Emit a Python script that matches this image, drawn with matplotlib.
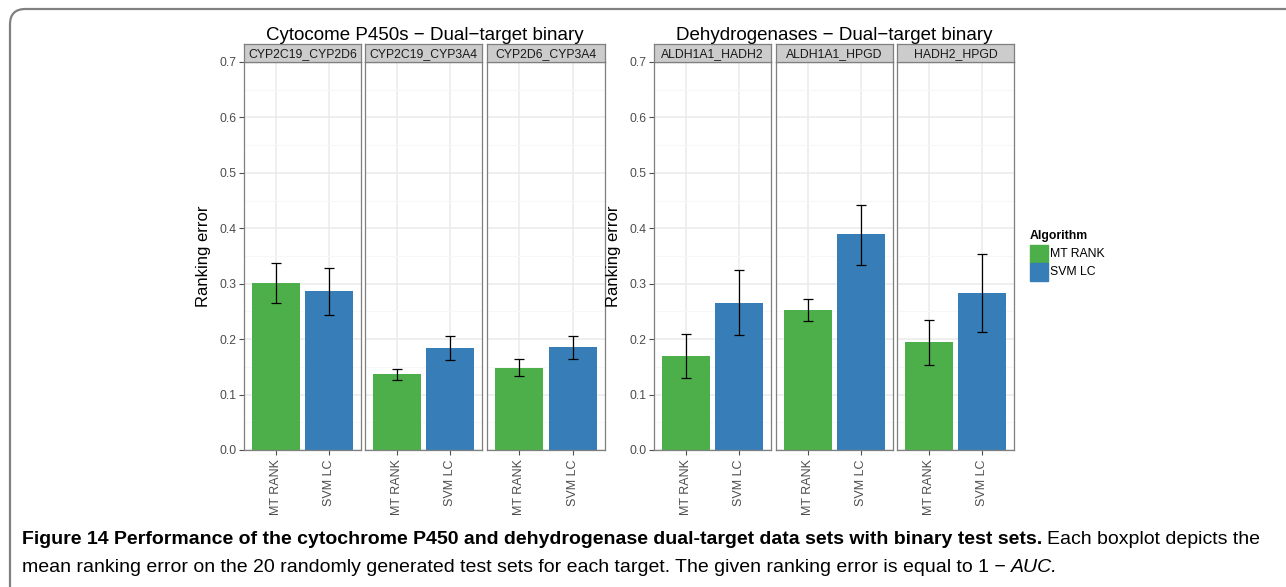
#!/usr/bin/env python3
# -*- coding: UTF-8 -*-

"""
    ranking error of MT RANK and SVM LC on dual-target binary test sets
"""

import matplotlib
matplotlib.use("Agg")
import matplotlib.pyplot as plt
from matplotlib.patches import FancyBboxPatch, Rectangle

# algorithms, one bar per algorithm in every facet
algorithms = ["MT RANK", "SVM LC"]
colors = ["#4DAF4A", "#377EB8"]

# cytochrome P450 facets
cyp_targets = ["CYP2C19_CYP2D6", "CYP2C19_CYP3A4", "CYP2D6_CYP3A4"]
cyp_mean = [[0.302, 0.286], [0.137, 0.184], [0.148, 0.185]]
cyp_low = [[0.266, 0.244], [0.126, 0.163], [0.133, 0.165]]
cyp_high = [[0.338, 0.329], [0.146, 0.206], [0.164, 0.205]]

# dehydrogenase facets
dh_targets = ["ALDH1A1_HADH2", "ALDH1A1_HPGD", "HADH2_HPGD"]
dh_mean = [[0.170, 0.266], [0.253, 0.389], [0.194, 0.284]]
dh_low = [[0.130, 0.208], [0.233, 0.334], [0.153, 0.212]]
dh_high = [[0.210, 0.324], [0.273, 0.442], [0.235, 0.353]]

y_ticks = [0.0, 0.1, 0.2, 0.3, 0.4, 0.5, 0.6, 0.7]

W, H = 1286, 587
GRID = "#EBEBEB"
MINOR = "#F7F7F7"
BORDER = "#7F7F7F"
TICKCOL = "#4D4D4D"
FONT = "Liberation Sans"


def px_axes(fig, x0, x1, ytop, ybot):
    """ axes from pixel coordinates (origin top left) """
    return fig.add_axes([x0 / W, 1 - ybot / H, (x1 - x0) / W, (ybot - ytop) / H])


def draw_facet(fig, x0, x1, name, mean, low, high, first):
    """ draw one facet with its strip """
    ax = px_axes(fig, x0, x1, 62, 450)
    xs = list(range(len(algorithms)))
    ax.set_xlim(-0.6, len(algorithms) - 0.4)
    ax.set_ylim(0, 0.7)
    ax.set_yticks(y_ticks)
    ax.set_yticks([v + 0.05 for v in y_ticks[:-1]], minor=True)
    ax.grid(True, which="major", color=GRID, lw=1.1, zorder=0)
    ax.grid(True, which="minor", axis="y", color=MINOR, lw=0.8, zorder=0)
    ax.set_axisbelow(True)
    ax.bar(xs, mean, width=0.9, color=colors, zorder=2)
    err = [[m - l for m, l in zip(mean, low)], [h - m for m, h in zip(mean, high)]]
    ax.errorbar(xs, mean, yerr=err, fmt="none", ecolor="black", elinewidth=0.9,
                capsize=3.4, capthick=0.9, zorder=3)
    ax.set_xticks(xs)
    ax.set_xticklabels(algorithms, rotation=90, fontsize=9, color=TICKCOL,
                       family=FONT)
    ax.tick_params(axis="x", length=3.5, color=TICKCOL, width=0.8, pad=3)
    ax.tick_params(which="minor", length=0)
    if first:
        ax.set_yticklabels(["%.1f" % v for v in y_ticks], fontsize=8.8,
                           color=TICKCOL, family=FONT)
        ax.tick_params(axis="y", length=3.5, color=TICKCOL, width=0.8, pad=2)
        ax.set_ylabel("Ranking error", fontsize=12, family=FONT, labelpad=6)
    else:
        ax.tick_params(axis="y", length=0, labelleft=False)
    for sp in ax.spines.values():
        sp.set_color(BORDER)
        sp.set_linewidth(0.9)

    strip = px_axes(fig, x0, x1, 44, 62)
    strip.set_xticks([])
    strip.set_yticks([])
    strip.set_facecolor("#CCCCCC")
    for sp in strip.spines.values():
        sp.set_color(BORDER)
        sp.set_linewidth(0.9)
    strip.text(0.5, 0.45, name, ha="center", va="center", fontsize=8.8,
               color="#1A1A1A", family=FONT)
    return ax


def draw_group(fig, lefts, targets, mean, low, high, title):
    """ draw a group of three facets with a common title """
    for i, (x0, x1) in enumerate(lefts):
        draw_facet(fig, x0, x1, targets[i], mean[i], low[i], high[i], i == 0)
    xc = (lefts[0][0] + lefts[-1][1]) / 2
    fig.text(xc / W, 1 - 35 / H, title, ha="center", va="center",
             fontsize=13.5, family=FONT)


fig = plt.figure(figsize=(W / 100, H / 100), dpi=100)

# outer frame of the figure box
frame = FancyBboxPatch((10 / W, -0.2), 1.2, 1.2 - 9 / H,
                       boxstyle="round,pad=0,rounding_size=0.012",
                       transform=fig.transFigure, fill=False,
                       ec="#808080", lw=1.6, mutation_aspect=W / H)
fig.patches.append(frame)

draw_group(fig, [(244, 361), (365, 482), (487, 605)], cyp_targets,
           cyp_mean, cyp_low, cyp_high, "Cytocome P450s \u2212 Dual\u2212target binary")
draw_group(fig, [(654, 771), (776, 893), (897, 1014)], dh_targets,
           dh_mean, dh_low, dh_high, "Dehydrogenases \u2212 Dual\u2212target binary")

# legend
fig.text(1030 / W, 1 - 236 / H, "Algorithm", fontsize=8.8, weight="bold",
         va="center", family=FONT)
for i, name in enumerate(algorithms):
    y0 = 245 + i * 18
    fig.patches.append(Rectangle((1030 / W, 1 - (y0 + 18) / H), 18 / W, 18 / H,
                                 transform=fig.transFigure, color=colors[i]))
    fig.text(1050 / W, 1 - (y0 + 9) / H, name, fontsize=8.8, va="center",
             family=FONT)

# caption below the chart
cap_size = 14
bold = fig.text(22 / W, 1 - 540 / H,
                "Figure 14 Performance of the cytochrome P450 and dehydrogenase "
                "dual-target data sets with binary test sets.",
                fontsize=cap_size, weight="bold", va="center", family=FONT)
fig.canvas.draw()
bb = bold.get_window_extent()
fig.text((bb.x1 + 5) / W, 1 - 540 / H,
         "Each boxplot depicts the",
         fontsize=cap_size, va="center", family=FONT)
fig.text(22 / W, 1 - 567 / H,
         "mean ranking error on the 20 randomly generated test sets for each "
         "target. The given ranking error is equal to 1 \u2212 ",
         fontsize=cap_size, va="center", family=FONT)
line2 = fig.texts[-1]
fig.canvas.draw()
bb2 = line2.get_window_extent()
fig.text(bb2.x1 / W, 1 - 567 / H, "AUC.", fontsize=cap_size, style="italic",
         va="center", family=FONT)

fig.savefig("out.png", dpi=100)
